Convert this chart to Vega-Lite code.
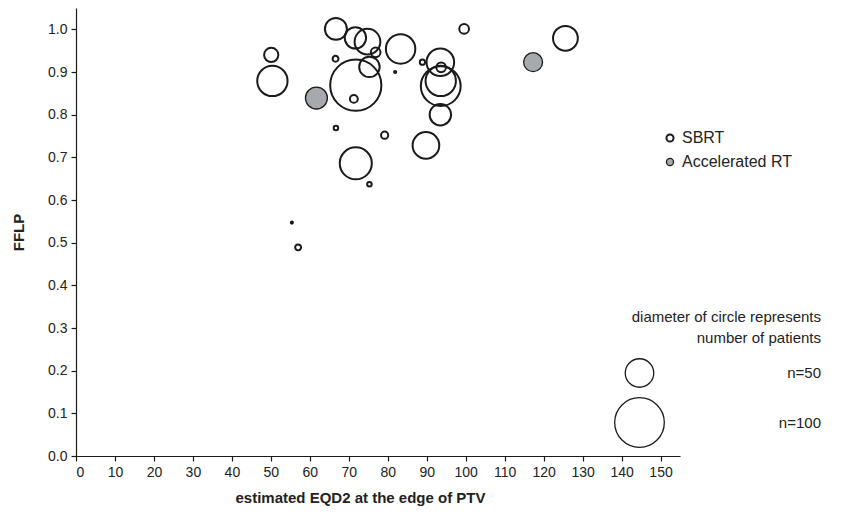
{
  "$schema": "https://vega.github.io/schema/vega-lite/v6.json",
  "autosize": "none",
  "width": 604,
  "height": 448,
  "padding": {"left": 76, "top": 8, "right": 165, "bottom": 61},
  "background": "white",
  "data": {
    "values": [
      {"eqd2": 61.7, "fflp": 0.839, "n": 36, "type": "Accelerated RT"},
      {"eqd2": 117.3, "fflp": 0.923, "n": 30, "type": "Accelerated RT"},
      {"eqd2": 66.7, "fflp": 1.001, "n": 36, "type": "SBRT"},
      {"eqd2": 71.7, "fflp": 0.980, "n": 35, "type": "SBRT"},
      {"eqd2": 74.8, "fflp": 0.971, "n": 44, "type": "SBRT"},
      {"eqd2": 76.9, "fflp": 0.946, "n": 13, "type": "SBRT"},
      {"eqd2": 83.3, "fflp": 0.954, "n": 52, "type": "SBRT"},
      {"eqd2": 66.6, "fflp": 0.931, "n": 7, "type": "SBRT"},
      {"eqd2": 75.3, "fflp": 0.912, "n": 33, "type": "SBRT"},
      {"eqd2": 71.8, "fflp": 0.869, "n": 104, "type": "SBRT"},
      {"eqd2": 71.3, "fflp": 0.837, "n": 10, "type": "SBRT"},
      {"eqd2": 81.9, "fflp": 0.900, "n": 2, "type": "SBRT"},
      {"eqd2": 50.1, "fflp": 0.940, "n": 21, "type": "SBRT"},
      {"eqd2": 50.4, "fflp": 0.879, "n": 54, "type": "SBRT"},
      {"eqd2": 66.7, "fflp": 0.769, "n": 5, "type": "SBRT"},
      {"eqd2": 79.2, "fflp": 0.752, "n": 9, "type": "SBRT"},
      {"eqd2": 71.8, "fflp": 0.686, "n": 58, "type": "SBRT"},
      {"eqd2": 75.3, "fflp": 0.637, "n": 5, "type": "SBRT"},
      {"eqd2": 89.8, "fflp": 0.728, "n": 46, "type": "SBRT"},
      {"eqd2": 88.9, "fflp": 0.923, "n": 6, "type": "SBRT"},
      {"eqd2": 93.5, "fflp": 0.923, "n": 48, "type": "SBRT"},
      {"eqd2": 93.7, "fflp": 0.911, "n": 13, "type": "SBRT"},
      {"eqd2": 93.6, "fflp": 0.879, "n": 54, "type": "SBRT"},
      {"eqd2": 93.6, "fflp": 0.867, "n": 76, "type": "SBRT"},
      {"eqd2": 93.5, "fflp": 0.800, "n": 35, "type": "SBRT"},
      {"eqd2": 99.6, "fflp": 1.001, "n": 13, "type": "SBRT"},
      {"eqd2": 125.6, "fflp": 0.979, "n": 42, "type": "SBRT"},
      {"eqd2": 55.4, "fflp": 0.547, "n": 2, "type": "SBRT"},
      {"eqd2": 57.0, "fflp": 0.489, "n": 7, "type": "SBRT"}
    ]
  },
  "mark": {"type": "circle", "stroke": "#1a1a1a", "opacity": 1},
  "encoding": {
    "x": {
      "field": "eqd2", "type": "quantitative",
      "scale": {"domain": [0, 155], "nice": false, "zero": true},
      "axis": {
        "title": "estimated EQD2 at the edge of PTV",
        "titleX": 284, "titleAnchor": "start", "titleAlign": "center",
        "values": [0,10,20,30,40,50,60,70,80,90,100,110,120,130,140,150],
        "grid": false, "format": "d", "titlePadding": 11,
        "encode": {"labels": {"update": {"dx": {"signal": "-datum.value * 0.05"}}}}
      }
    },
    "y": {
      "field": "fflp", "type": "quantitative",
      "scale": {"domain": [0, 1.05], "nice": false},
      "axis": {
        "title": "FFLP",
        "values": [0,0.1,0.2,0.3,0.4,0.5,0.6,0.7,0.8,0.9,1.0],
        "grid": false, "format": ".1f", "titlePadding": 21
      }
    },
    "strokeWidth": {
      "field": "type", "type": "nominal",
      "scale": {"domain": ["SBRT", "Accelerated RT"], "range": [2, 1.3]},
      "legend": null
    },
    "fill": {
      "field": "type", "type": "nominal",
      "scale": {"domain": ["SBRT", "Accelerated RT"], "range": ["transparent", "#a7a9ac"]},
      "legend": {
        "title": null,
        "orient": "none", "legendX": 586, "legendY": 122,
        "symbolType": "circle", "symbolSize": 50,
        "symbolStrokeColor": "#1a1a1a", "symbolStrokeWidth": 2,
        "labelFontSize": 16, "labelOffset": 4, "rowPadding": 8,
        "labelFont": "Liberation Sans", "labelColor": "#222222", "padding": 0
      }
    },
    "size": {
      "field": "n", "type": "quantitative",
      "scale": {"type": "pow", "exponent": 1.6, "domain": [0, 100], "range": [0, 2463]},
      "legend": {
        "title": ["diameter of circle represents", "number of patients"],
        "titleAlign": "right", "titleAnchor": "end", "titleLimit": 400,
        "titleFontSize": 15, "titleFontWeight": "normal", "titleLineHeight": 21,
        "titleFont": "Liberation Sans", "titleColor": "#222222", "titlePadding": 12,
        "values": [50, 100],
        "labelExpr": "'n=' + datum.value",
        "labelAlign": "right", "labelOffset": 156, "labelLimit": 300,
        "labelFontSize": 15, "labelFont": "Liberation Sans", "labelColor": "#222222",
        "symbolType": "circle", "symbolFillColor": "transparent",
        "symbolStrokeColor": "#1a1a1a", "symbolStrokeWidth": 1.3,
        "rowPadding": 5, "padding": 0,
        "orient": "none", "legendX": 538, "legendY": 302,
        "encode": {"labels": {"update": {"dy": {"signal": "datum.value === 50 ? 9 : 0"}}}}
      }
    }
  },
  "config": {
    "view": {"stroke": null},
    "font": "Liberation Sans",
    "axis": {
      "domainColor": "#1a1a1a", "domainWidth": 1.2,
      "tickColor": "#1a1a1a", "tickWidth": 1.2, "tickSize": 5,
      "labelFont": "Liberation Sans", "labelFontSize": 14, "labelColor": "#222222",
      "labelPadding": 4,
      "titleFont": "Liberation Sans", "titleFontSize": 15, "titleFontWeight": "bold", "titleColor": "#222222"
    }
  }
}
